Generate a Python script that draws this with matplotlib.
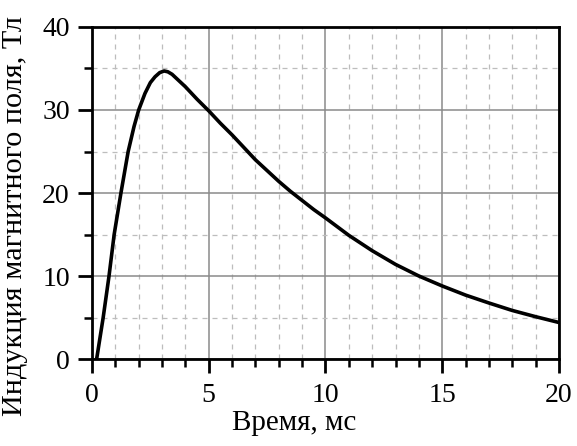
import matplotlib
matplotlib.use("Agg")
import matplotlib.pyplot as plt
from matplotlib.ticker import MultipleLocator

time_ms = [0.2, 0.48, 0.73, 0.95, 1.24, 1.55, 1.8, 2.0, 2.27, 2.5, 2.7, 2.9, 3.09, 3.25, 3.43,
           4.0, 4.5, 5.0, 5.5, 6.0, 6.5, 7.0, 7.5, 8.0, 8.5, 9.0, 9.5, 10.0,
           11.0, 12.0, 13.0, 14.0, 15.0, 16.0, 17.0, 18.0, 19.0, 20.0]
field_T = [0, 5, 10, 15, 20, 25, 28, 30, 32, 33.3, 34.0, 34.5, 34.7, 34.6, 34.3,
           32.8, 31.3, 29.9, 28.4, 27.0, 25.5, 24.0, 22.7, 21.4, 20.2, 19.1, 18.0, 17.0,
           14.9, 13.05, 11.4, 10.0, 8.8, 7.7, 6.75, 5.85, 5.1, 4.4]
x_ticks = [0, 5, 10, 15, 20]
y_ticks = [0, 10, 20, 30, 40]
x_label = "Время, мс"
y_label = "Индукция магнитного поля, Тл"

plt.rcParams['font.family'] = ['Liberation Serif', 'DejaVu Serif']

fig = plt.figure(figsize=(5.77, 4.46), dpi=100)
ax = fig.add_axes([0.1594, 0.195, 0.8094, 0.7445])

ax.plot(time_ms, field_T, color='black', lw=2.6, solid_joinstyle='round', solid_capstyle='butt')

ax.set_xlim(0, 20)
ax.set_ylim(0, 40)
ax.set_xticks(x_ticks)
ax.set_yticks(y_ticks)
ax.xaxis.set_minor_locator(MultipleLocator(1))
ax.yaxis.set_minor_locator(MultipleLocator(5))

ax.grid(which='major', color='#8a8a8a', lw=1.1, ls='-')
ax.grid(which='minor', color='#bdbdbd', lw=0.9, ls=(0, (4, 4)))
ax.set_axisbelow(True)

for s in ax.spines.values():
    s.set_linewidth(2.0)

ax.tick_params(which='major', direction='out', length=10, width=2.0, labelsize=20)
ax.tick_params(axis='x', which='major', pad=7)
ax.tick_params(axis='y', which='major', pad=6)
ax.tick_params(which='minor', direction='out', length=6, width=1.8)
ax.tick_params(top=False, right=False)

ax.set_xlabel(x_label, fontsize=21)
ax.xaxis.set_label_coords(0.433, -0.155)
ax.xaxis.label.set_va('top')
ax.set_ylabel(y_label, fontsize=21.8)
ax.yaxis.set_label_coords(-0.138, 0.43)
ax.yaxis.label.set_va('bottom')

fig.savefig("out.png", dpi=100)
